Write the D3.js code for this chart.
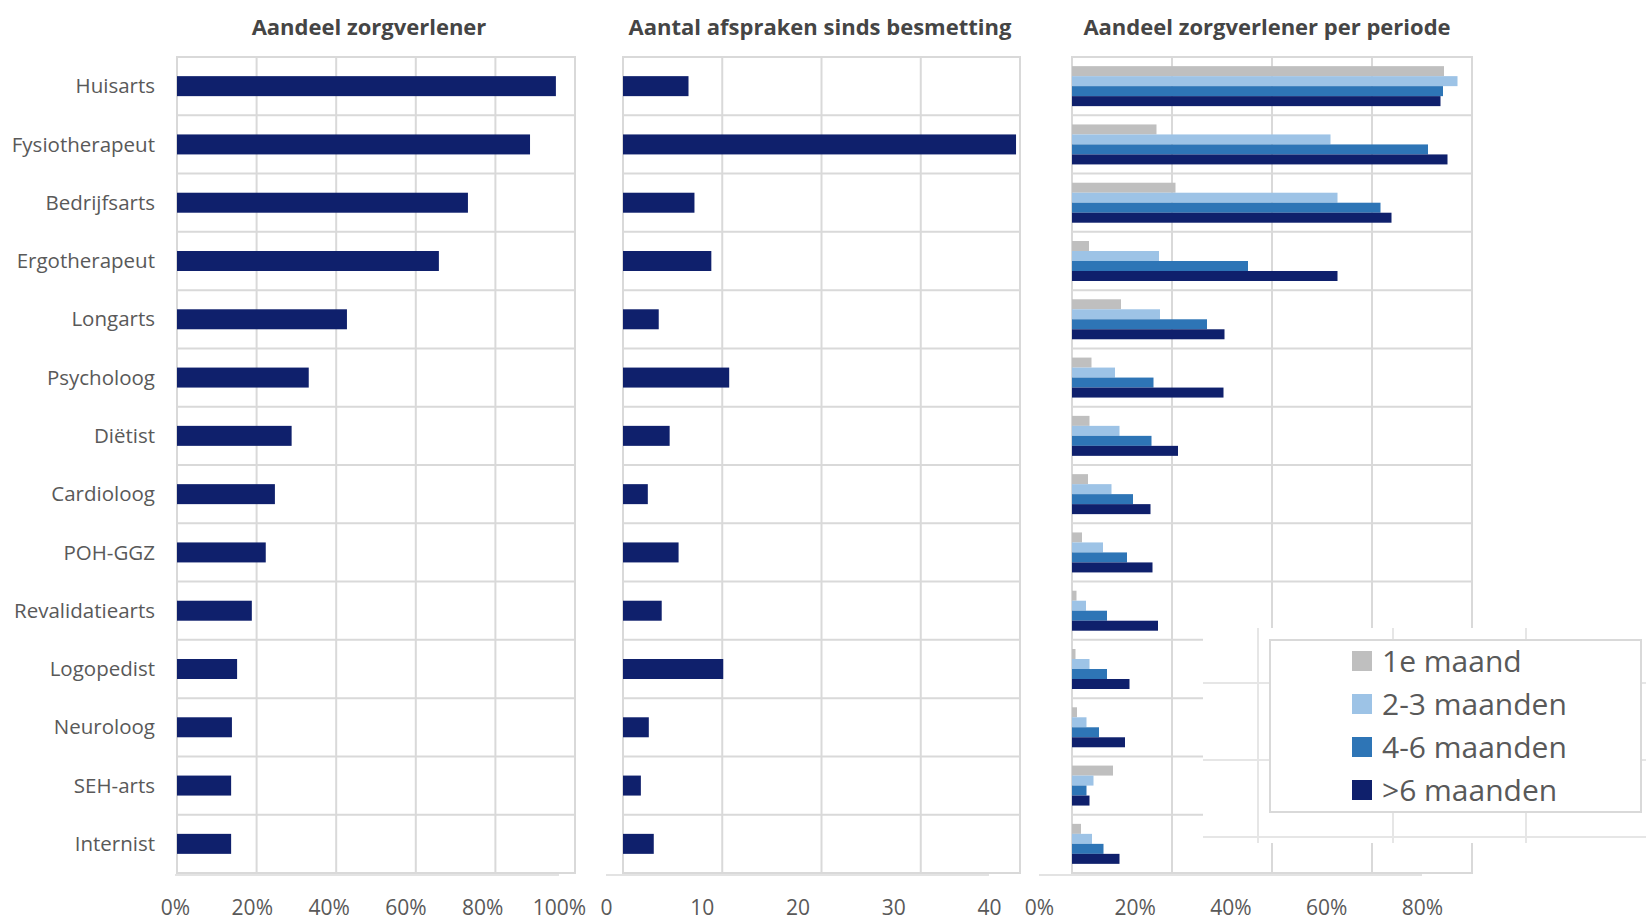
<!DOCTYPE html>
<html>
<head>
<meta charset="utf-8">
<script src="https://cdn.jsdelivr.net/npm/d3@7"></script>
<style>
  html, body { margin: 0; padding: 0; background: #ffffff; }
  svg { display: block; font-family: "Open Sans", "Noto Sans", sans-serif; }
</style>
</head>
<body>
<script>
// Zorgverleners (care providers) in the order they are listed
const categories = ["Huisarts", "Fysiotherapeut", "Bedrijfsarts", "Ergotherapeut", "Longarts",
  "Psycholoog", "Diëtist", "Cardioloog", "POH-GGZ", "Revalidatiearts", "Logopedist",
  "Neuroloog", "SEH-arts", "Internist"];

// Share of respondents that saw each care provider (%)
const aandeel = [95.2, 88.7, 73.1, 65.8, 42.7, 33.1, 28.8, 24.6, 22.3, 18.8, 15.1, 13.8, 13.6, 13.6];

// Number of appointments since infection
const afspraken = [6.6, 39.6, 7.2, 8.9, 3.6, 10.7, 4.7, 2.5, 5.6, 3.9, 10.1, 2.6, 1.8, 3.1];

// Share of respondents per period since infection (%)
const periodes = ["1e maand", "2-3 maanden", "4-6 maanden", ">6 maanden"];
const eersteMaand  = [74.4, 16.9, 20.7, 3.4, 9.8, 3.9, 3.5, 3.2, 2.0, 0.9, 0.7, 1.0, 8.2, 1.8];
const maanden2tot3 = [77.1, 51.7, 53.1, 17.4, 17.6, 8.6, 9.5, 7.9, 6.2, 2.8, 3.5, 2.9, 4.3, 4.0];
const maanden4tot6 = [74.2, 71.2, 61.7, 35.2, 27.0, 16.3, 15.9, 12.2, 11.0, 7.0, 7.0, 5.4, 2.9, 6.3];
const meerDan6     = [73.7, 75.1, 63.9, 53.1, 30.5, 30.3, 21.2, 15.7, 16.1, 17.2, 11.5, 10.6, 3.5, 9.5];

// Axis ticks
const pctTicks1 = [0, 20, 40, 60, 80, 100];
const countTicks = [0, 10, 20, 30, 40];
const pctTicks3 = [0, 20, 40, 60, 80];

const periodeSeries = [eersteMaand, maanden2tot3, maanden4tot6, meerDan6];
const periodeColors = ["#bfbfbf", "#9dc3e6", "#2e75b6", "#0f206c"];
const navy = "#0f206c";
const gridColor = "#d9d9d9";
const textColor = "#595959";

const W = 1646, H = 922;
const plotTop = 57, plotBottom = 873;

const svg = d3.select("body").append("svg")
  .attr("width", W).attr("height", H);

const y = d3.scaleBand().domain(categories).range([plotTop, plotBottom])
  .paddingInner(0.657).paddingOuter(0.657 / 2);
const step = y.step();

// Frame plus vertical and horizontal gridlines of one panel
function drawGrid(g, x, ticks) {
  const [x0, x1] = x.range();
  g.selectAll("line.v").data(ticks).join("line")
    .attr("class", "v")
    .attr("x1", d => x(d)).attr("x2", d => x(d))
    .attr("y1", plotTop).attr("y2", plotBottom)
    .attr("stroke", gridColor).attr("stroke-width", 2);
  g.selectAll("line.h").data(d3.range(categories.length + 1)).join("line")
    .attr("class", "h")
    .attr("x1", x0).attr("x2", x1)
    .attr("y1", i => plotTop + i * step).attr("y2", i => plotTop + i * step)
    .attr("stroke", gridColor).attr("stroke-width", 2);
  g.append("rect")
    .attr("x", x0).attr("y", plotTop).attr("width", x1 - x0).attr("height", plotBottom - plotTop)
    .attr("fill", "none").attr("stroke", gridColor).attr("stroke-width", 2);
}

function drawTitle(text, cx) {
  svg.append("text")
    .attr("x", cx).attr("y", 27).attr("dy", "0.35em")
    .attr("text-anchor", "middle")
    .attr("font-weight", "bold").attr("font-size", 22)
    .attr("fill", "#454545")
    .text(text);
}

function drawTickLabels(domain, labelRange, ticks, fmt) {
  const lx = d3.scaleLinear().domain(domain).range(labelRange);
  svg.append("line")
    .attr("x1", labelRange[0]).attr("x2", labelRange[1])
    .attr("y1", 875).attr("y2", 875)
    .attr("stroke", "#e3e3e3").attr("stroke-width", 2);
  const ax = svg.append("g")
    .attr("transform", "translate(0,900)")
    .call(d3.axisBottom(lx).tickValues(ticks).tickFormat(fmt).tickSize(0).tickPadding(0));
  ax.select(".domain").remove();
  ax.selectAll("text")
    .attr("font-family", "'Open Sans', sans-serif")
    .attr("font-size", 21).attr("fill", textColor);
}

// ---------- Panel 1: Aandeel zorgverlener ----------
const x1 = d3.scaleLinear().domain([0, 100]).range([177, 575]);
const g1 = svg.append("g");
drawGrid(g1, x1, pctTicks1);
g1.selectAll("rect.bar").data(categories).join("rect")
  .attr("class", "bar")
  .attr("x", x1(0)).attr("y", d => y(d))
  .attr("width", (d, i) => x1(aandeel[i]) - x1(0))
  .attr("height", y.bandwidth())
  .attr("fill", navy);
svg.append("g").selectAll("text").data(categories).join("text")
  .attr("x", 155).attr("y", d => y(d) + y.bandwidth() / 2).attr("dy", "0.35em")
  .attr("text-anchor", "end")
  .attr("font-size", 20.5).attr("fill", textColor)
  .text(d => d);
drawTitle("Aandeel zorgverlener", 369);
drawTickLabels([0, 100], [175, 559], pctTicks1, d => d + "%");

// ---------- Panel 2: Aantal afspraken sinds besmetting ----------
const x2 = d3.scaleLinear().domain([0, 40]).range([623, 1020]);
const g2 = svg.append("g");
drawGrid(g2, x2, countTicks);
g2.selectAll("rect.bar").data(categories).join("rect")
  .attr("class", "bar")
  .attr("x", x2(0)).attr("y", d => y(d))
  .attr("width", (d, i) => x2(afspraken[i]) - x2(0))
  .attr("height", y.bandwidth())
  .attr("fill", navy);
drawTitle("Aantal afspraken sinds besmetting", 820);
drawTickLabels([0, 40], [606, 989], countTicks, d => d);

// ---------- Panel 3: Aandeel zorgverlener per periode ----------
const x3 = d3.scaleLinear().domain([0, 80]).range([1072, 1472]);
const yg = d3.scaleBand().domain(categories).range([plotTop, plotBottom])
  .paddingInner(0.314).paddingOuter(0.157);
const yp = d3.scaleBand().domain(periodes).range([0, yg.bandwidth()]);
const g3 = svg.append("g");
drawGrid(g3, x3, pctTicks3);
periodeSeries.forEach((series, s) => {
  g3.append("g").selectAll("rect").data(categories).join("rect")
    .attr("x", x3(0))
    .attr("y", d => yg(d) + yp(periodes[s]))
    .attr("width", (d, i) => x3(series[i]) - x3(0))
    .attr("height", yp.bandwidth())
    .attr("fill", periodeColors[s]);
});
drawTitle("Aandeel zorgverlener per periode", 1267);
drawTickLabels([0, 80], [1039, 1422], pctTicks3, d => d + "%");

// ---------- Legend block with its own faint background grid ----------
const lg = svg.append("g");
lg.append("rect")
  .attr("x", 1203).attr("y", 628).attr("width", W - 1203).attr("height", 843 - 628)
  .attr("fill", "#ffffff");
const legendGridH = [683, 760, 837];
const legendGridV = [1258, 1393, 1526];
lg.selectAll("line.lh").data(legendGridH).join("line")
  .attr("x1", 1203).attr("x2", W).attr("y1", d => d).attr("y2", d => d)
  .attr("stroke", "#e6e6e6").attr("stroke-width", 2);
lg.selectAll("line.lv").data(legendGridV).join("line")
  .attr("x1", d => d).attr("x2", d => d).attr("y1", 628).attr("y2", 843)
  .attr("stroke", "#e6e6e6").attr("stroke-width", 2);
lg.append("rect")
  .attr("x", 1270).attr("y", 640).attr("width", 371).attr("height", 172)
  .attr("fill", "#ffffff").attr("stroke", "#d9d9d9").attr("stroke-width", 2);
const legendY = d3.scalePoint().domain(periodes).range([661, 790]);
const items = lg.selectAll("g.item").data(periodes).join("g")
  .attr("class", "item")
  .attr("transform", d => `translate(0,${legendY(d)})`);
items.append("rect")
  .attr("x", 1352).attr("y", -10).attr("width", 20).attr("height", 20)
  .attr("fill", (d, i) => periodeColors[i]);
items.append("text")
  .attr("x", 1382).attr("y", 0).attr("dy", "0.35em")
  .attr("font-size", 30).attr("fill", textColor)
  .text(d => d);
</script>
</body>
</html>
